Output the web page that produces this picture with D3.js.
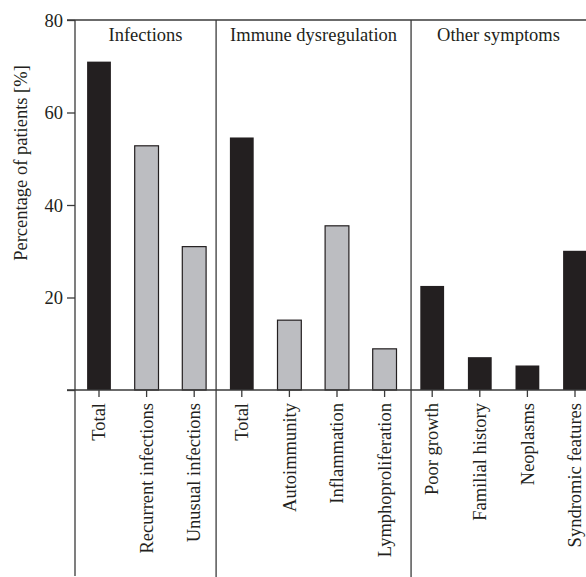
<!DOCTYPE html>
<html><head><meta charset="utf-8">
<script src="https://cdn.jsdelivr.net/npm/d3@7"></script>
<style>body{margin:0;background:#fff}svg{display:block}text{font-family:"Liberation Serif","Times New Roman",serif;fill:#231f20}</style>
</head><body><svg id="c" width="586" height="577"></svg>
<script>
const categories = ["Total","Recurrent infections","Unusual infections","Total ","Autoimmunity","Inflammation","Lymphoproliferation","Poor growth","Familial history","Neoplasms","Syndromic features"];
const values = [71, 52.8, 31, 54.6, 15.1, 35.5, 8.9, 22.5, 7.1, 5.3, 30.1];
const kinds = ["total","sub","sub","total","sub","sub","sub","total","total","total","total"];
const groups = ["Infections","Immune dysregulation","Other symptoms"];
const yTicks = [0, 20, 40, 60, 80];
const yTickLabels = ["", "20", "40", "60", "80"];
const yLabel = "Percentage of patients [%]";

const svg = d3.select("#c");
const fs = 18.5;
const x = d3.scaleBand().domain(d3.range(categories.length)).range([75.2, 598.8]).paddingInner(0.5).paddingOuter(0.25);
const y = d3.scaleLinear().domain([0, 80]).range([390, 20]);
const lineCol = "#3a3a3a";

// bars
svg.append("g").selectAll("rect").data(values).join("rect")
  .attr("x", (d,i)=>x(i)).attr("width", x.bandwidth())
  .attr("y", d=>y(d)).attr("height", d=>y(0)-y(d))
  .attr("fill", (d,i)=>kinds[i]==="total" ? "#231f20" : "#bcbdc1")
  .attr("stroke", (d,i)=>kinds[i]==="total" ? "none" : "#231f20")
  .attr("stroke-width", 1.2);

// top frame line and baseline
svg.append("line").attr("x1", 67).attr("x2", 586).attr("y1", y(80)).attr("y2", y(80)).attr("stroke", lineCol).attr("stroke-width", 1.3);
svg.append("line").attr("x1", 67).attr("x2", 586).attr("y1", y(0)).attr("y2", y(0)).attr("stroke", lineCol).attr("stroke-width", 1.3);

// y axis
const yAxis = d3.axisLeft(y).tickValues(yTicks).tickFormat((d,i)=>yTickLabels[i]).tickSize(8).tickPadding(4);
const ga = svg.append("g").attr("transform","translate(75,0)").call(yAxis);
ga.select(".domain").remove();
ga.selectAll(".tick line").attr("stroke", lineCol).attr("stroke-width", 1.3);
ga.selectAll(".tick text").attr("font-size", fs).attr("font-family", "Liberation Serif").attr("fill","#231f20").attr("dy","0.34em");
svg.append("line").attr("x1",75).attr("x2",75).attr("y1",y(80)).attr("y2",576).attr("stroke",lineCol).attr("stroke-width",1.3);

// x axis
const xAxis = d3.axisBottom(x).tickFormat(i=>categories[i]).tickSize(7).tickPadding(0);
const gx = svg.append("g").attr("transform",`translate(0,${y(0)})`).call(xAxis);
gx.select(".domain").remove();
gx.selectAll(".tick line").attr("stroke", lineCol).attr("stroke-width", 1.3);
gx.selectAll(".tick text").attr("font-size", fs).attr("font-family","Liberation Serif").attr("fill","#231f20")
  .attr("text-anchor","end").attr("transform","rotate(-90)").attr("x",-13).attr("y",0).attr("dy","0.33em");

// group dividers and titles
const step = x.step();
const dividerX = [x(2)+x.bandwidth()/2+step*0.46, x(6)+x.bandwidth()/2+step*0.556];
svg.selectAll("line.div").data(dividerX).join("line").attr("class","div")
  .attr("x1",d=>d).attr("x2",d=>d).attr("y1",y(80)).attr("y2",577).attr("stroke",lineCol).attr("stroke-width",1.3);
const bounds = [75, dividerX[0], dividerX[1], 586];
svg.selectAll("text.grp").data(groups).join("text").attr("class","grp")
  .attr("x",(d,i)=>(bounds[i]+bounds[i+1])/2).attr("y",41).attr("text-anchor","middle").attr("font-size",fs).text(d=>d);

// y label
svg.append("text").attr("transform","translate(27,163) rotate(-90)").attr("text-anchor","middle").attr("font-size",fs).text(yLabel);
</script></body></html>
